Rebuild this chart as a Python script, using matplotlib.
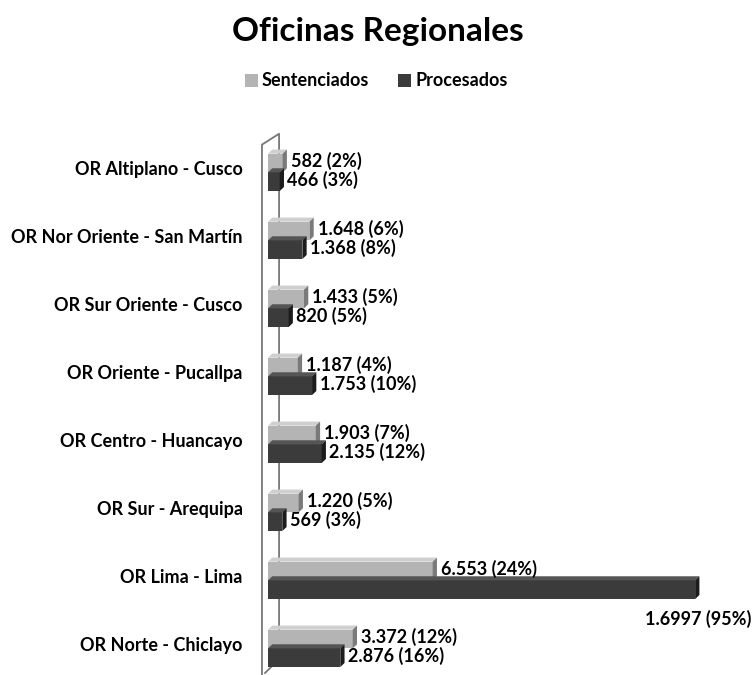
import numpy as np
import matplotlib.pyplot as plt
from matplotlib.patches import Polygon, Patch

plt.rcParams['font.family'] = ['Lato', 'DejaVu Sans']
plt.rcParams['font.weight'] = 'bold'

oficinas = ['OR Altiplano - Cusco', 'OR Nor Oriente - San Martín', 'OR Sur Oriente - Cusco',
            'OR Oriente - Pucallpa', 'OR Centro - Huancayo', 'OR Sur - Arequipa',
            'OR Lima - Lima', 'OR Norte - Chiclayo']
sentenciados = [582, 1648, 1433, 1187, 1903, 1220, 6553, 3372]
procesados = [466, 1368, 820, 1753, 2135, 569, 16997, 2876]
etiq_sent = ['582 (2%)', '1.648 (6%)', '1.433 (5%)', '1.187 (4%)', '1.903 (7%)',
             '1.220 (5%)', '6.553 (24%)', '3.372 (12%)']
etiq_proc = ['466 (3%)', '1.368 (8%)', '820 (5%)', '1.753 (10%)', '2.135 (12%)',
             '569 (3%)', '1.6997 (95%)', '2.876 (16%)']

c_sent = ('#b4b4b4', '#cfcfcf', '#7a7a7a')   # frente, arriba, lado
c_proc = ('#3b3b3b', '#555555', '#1c1c1c')

fig = plt.figure(figsize=(7.55, 6.75), dpi=100)
ax = fig.add_axes([268 / 755, 2 / 675, (745 - 268) / 755, 544 / 675])
ax.set_xlim(0, (745 - 268) / 0.02513)
ax.set_ylim(7.4, -0.6)
ax.axis('off')

h = 0.275
dx = 170      # profundidad en x (unidades de datos)
dy = -0.06    # profundidad en y
fs = 13


def barra3d(y, v, col):
    front, top, side = col
    y0, y1 = y - h / 2, y + h / 2
    ax.add_patch(Polygon([(0, y0), (v, y0), (v, y1), (0, y1)], closed=True,
                         facecolor=front, edgecolor='none', zorder=3))
    ax.add_patch(Polygon([(0, y0), (v, y0), (v + dx, y0 + dy), (dx, y0 + dy)], closed=True,
                         facecolor=top, edgecolor='none', zorder=3))
    ax.add_patch(Polygon([(v, y0), (v + dx, y0 + dy), (v + dx, y1 + dy), (v, y1)], closed=True,
                         facecolor=side, edgecolor='none', zorder=3))


# pared de fondo
wall_x0, wall_x1 = -240, 440
ax.plot([wall_x0, wall_x0, wall_x1, wall_x1, wall_x0 + 120],
        [7.45, -0.37, -0.53, 7.2, 7.4], color='#777777', lw=1.3, clip_on=False, zorder=1)

for i in range(len(oficinas)):
    ys = i - 0.1
    yp = i + 0.175
    barra3d(ys, sentenciados[i], c_sent)
    barra3d(yp, procesados[i], c_proc)
    ax.text(sentenciados[i] + 330, ys - 0.03, etiq_sent[i], fontsize=fs,
            fontweight='bold', va='center', ha='left', zorder=4)
    if procesados[i] > 10000:
        ax.text(procesados[i] + 2250, yp + 0.43, etiq_proc[i], fontsize=fs,
                fontweight='bold', va='center', ha='right', zorder=4, clip_on=False)
    else:
        ax.text(procesados[i] + 300, yp - 0.02, etiq_proc[i], fontsize=fs,
                fontweight='bold', va='center', ha='left', zorder=4)
    ax.text(-1000, i, oficinas[i], fontsize=fs, fontweight='bold',
            va='center', ha='right', clip_on=False)

fig.text(0.5, 1 - 31 / 675, 'Oficinas Regionales', fontsize=24, fontweight='bold',
         ha='center', va='center')
fig.legend(handles=[Patch(facecolor=c_sent[0], label='Sentenciados'),
                    Patch(facecolor=c_proc[0], label='Procesados')],
           loc='center', bbox_to_anchor=(0.498, 1 - 81 / 675), ncol=2, frameon=False,
           prop={'weight': 'bold', 'size': 13}, handlelength=0.75, handleheight=0.75,
           handletextpad=0.2, columnspacing=1.6)

fig.savefig('out.png', dpi=100)
